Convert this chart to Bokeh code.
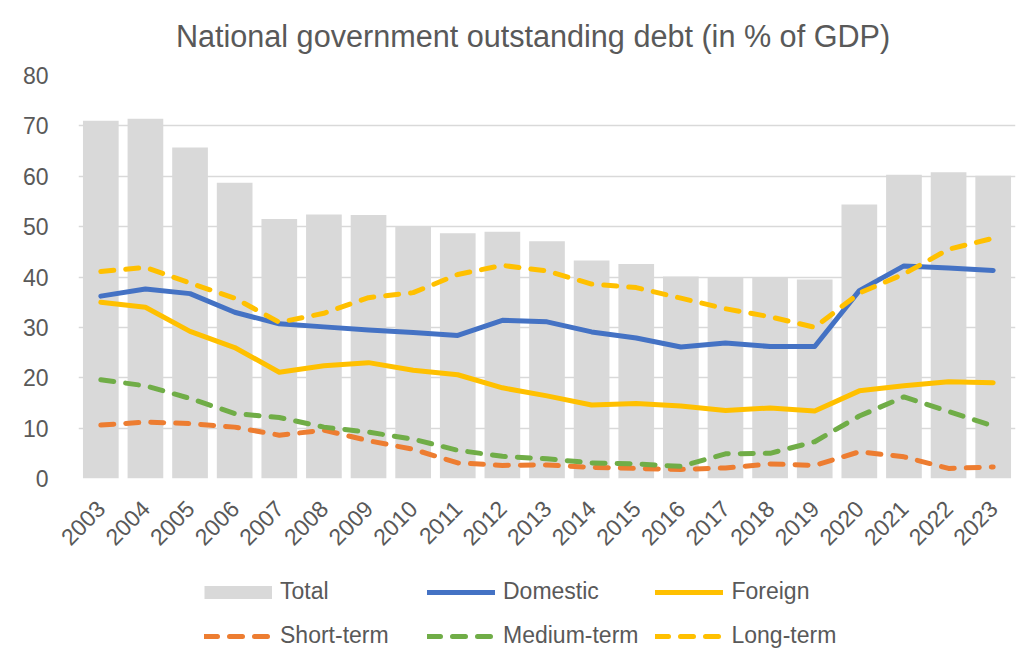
import math
from bokeh.plotting import figure
from bokeh.layouts import column
from bokeh.models import Legend, LegendItem, ColumnDataSource, FactorRange
from bokeh.embed import file_html
from bokeh.resources import INLINE

years = [str(y) for y in range(2003, 2024)]
total = [71.0, 71.4, 65.7, 58.7, 51.5, 52.4, 52.3, 50.1, 48.7, 49.0, 47.1,
         43.3, 42.6, 40.1, 39.9, 39.9, 39.5, 54.4, 60.3, 60.8, 60.1]
domestic = [36.2, 37.6, 36.7, 33.0, 30.7, 30.1, 29.5, 29.0, 28.4, 31.4, 31.1,
            29.1, 27.9, 26.1, 26.9, 26.2, 26.2, 37.3, 42.2, 41.8, 41.3]
foreign = [35.0, 34.0, 29.2, 26.0, 21.1, 22.4, 23.0, 21.5, 20.6, 18.0, 16.4,
           14.6, 14.9, 14.4, 13.5, 14.0, 13.4, 17.4, 18.4, 19.2, 19.0]
short_term = [10.6, 11.2, 10.9, 10.2, 8.6, 9.6, 7.5, 5.8, 3.1, 2.6, 2.7,
              2.2, 2.0, 1.8, 2.1, 2.9, 2.6, 5.3, 4.3, 2.0, 2.3]
medium_term = [19.6, 18.4, 15.9, 12.9, 12.1, 10.2, 9.2, 7.8, 5.6, 4.4, 3.9,
               3.1, 2.9, 2.4, 4.9, 5.0, 7.3, 12.4, 16.2, 13.3, 10.4]
long_term = [41.1, 41.9, 38.8, 35.8, 31.0, 32.8, 35.9, 36.9, 40.5, 42.3, 41.2,
             38.6, 37.9, 35.8, 33.7, 32.1, 30.0, 36.8, 40.6, 45.5, 47.7]

title_text = "National government outstanding debt (in % of GDP)"
y_ticks = [0, 10, 20, 30, 40, 50, 60, 70, 80]

FONT = "Liberation Sans"
TXT = "#595959"
C_TOTAL, C_DOM, C_FOR = "#d9d9d9", "#4472c4", "#ffc000"
C_SH, C_MD, C_LG = "#ed7d31", "#70ad47", "#ffc000"
DASH = "13 12"
W = 1033
BL, BR = 78, 18


def strip(height, y_max):
    f = figure(width=W, height=height, x_range=(BL, W - BR), y_range=(0, y_max),
               output_backend="svg", toolbar_location=None,
               min_border_left=BL, min_border_right=BR,
               min_border_top=0, min_border_bottom=0)
    f.axis.visible = False
    f.grid.visible = False
    f.outline_line_color = None
    f.background_fill_color = "white"
    f.border_fill_color = "white"
    return f


# ---- title strip (60 px) ----
tf = strip(60, 60)
tf.text(x=[532.5], y=[60 - 35], text=[title_text], text_align="center",
        text_baseline="alphabetic", text_font_size="30.6px",
        text_font={"value": FONT}, text_color=TXT)

# ---- main chart ----
src = ColumnDataSource(dict(year=years, total=total, domestic=domestic,
                            foreign=foreign, short=short_term,
                            medium=medium_term, long=long_term))

p = figure(width=W, height=511, x_range=FactorRange(*years), y_range=(0, 80),
           output_backend="svg", toolbar_location=None,
           min_border_left=BL, min_border_right=BR, min_border_top=15,
           min_border_bottom=93)
p.outline_line_color = None
p.background_fill_color = "white"
p.border_fill_color = "white"
p.x_range.range_padding = 0

p.vbar(x="year", top="total", width=0.8, source=src,
       fill_color=C_TOTAL, line_color=None)
line_kw = dict(line_width=5, line_cap="round", line_join="round")
p.line("year", "domestic", source=src, line_color=C_DOM, **line_kw)
p.line("year", "foreign", source=src, line_color=C_FOR, **line_kw)
p.line("year", "short", source=src, line_color=C_SH, line_dash=DASH, **line_kw)
p.line("year", "medium", source=src, line_color=C_MD, line_dash=DASH, **line_kw)
p.line("year", "long", source=src, line_color=C_LG, line_dash=DASH, **line_kw)

p.yaxis.ticker = y_ticks
p.yaxis.axis_line_color = None
p.yaxis.major_tick_line_color = None
p.yaxis.minor_tick_line_color = None
p.yaxis.major_label_standoff = 24
p.yaxis.major_label_text_font = FONT
p.yaxis.major_label_text_font_size = "23px"
p.yaxis.major_label_text_color = TXT

p.xaxis.axis_line_color = None
p.xaxis.major_tick_line_color = None
p.xaxis.minor_tick_line_color = None
p.xaxis.major_label_orientation = math.pi / 4
p.xaxis.major_label_standoff = 20
p.xaxis.major_label_text_font = FONT
p.xaxis.major_label_text_font_size = "23px"
p.xaxis.major_label_text_color = TXT

p.xgrid.grid_line_color = None
p.ygrid.grid_line_color = "#d9d9d9"
p.ygrid.grid_line_width = 1.5

# ---- legend strip ----
lf = strip(78, 78)
off_x, off_y = [-100, -90], [-100, -100]   # outside the strip's ranges
g_tot = lf.line(off_x, off_y, line_color=C_TOTAL, line_width=13, line_cap="butt")
g_dom = lf.line(off_x, off_y, line_color=C_DOM, **line_kw)
g_for = lf.line(off_x, off_y, line_color=C_FOR, **line_kw)
g_sh = lf.line(off_x, off_y, line_color=C_SH, line_dash=DASH, **line_kw)
g_md = lf.line(off_x, off_y, line_color=C_MD, line_dash=DASH, **line_kw)
g_lg = lf.line(off_x, off_y, line_color=C_LG, line_dash=DASH, **line_kw)

legend = Legend(items=[
    LegendItem(label="Total", renderers=[g_tot]),
    LegendItem(label="Domestic", renderers=[g_dom]),
    LegendItem(label="Foreign", renderers=[g_for]),
    LegendItem(label="Short-term", renderers=[g_sh]),
    LegendItem(label="Medium-term", renderers=[g_md]),
    LegendItem(label="Long-term", renderers=[g_lg]),
], ncols=3, location=(204 - BL, 0), orientation="horizontal",
    glyph_width=68, glyph_height=24, label_height=24, label_width=130,
    label_standoff=8, spacing=17, padding=0, margin=0,
    border_line_color=None, background_fill_alpha=0,
    label_text_font=FONT, label_text_font_size="23px", label_text_color=TXT)
lf.add_layout(legend, "center")

layout = column(tf, p, lf, spacing=0)
open("out.html", "w").write(file_html(layout, INLINE))
